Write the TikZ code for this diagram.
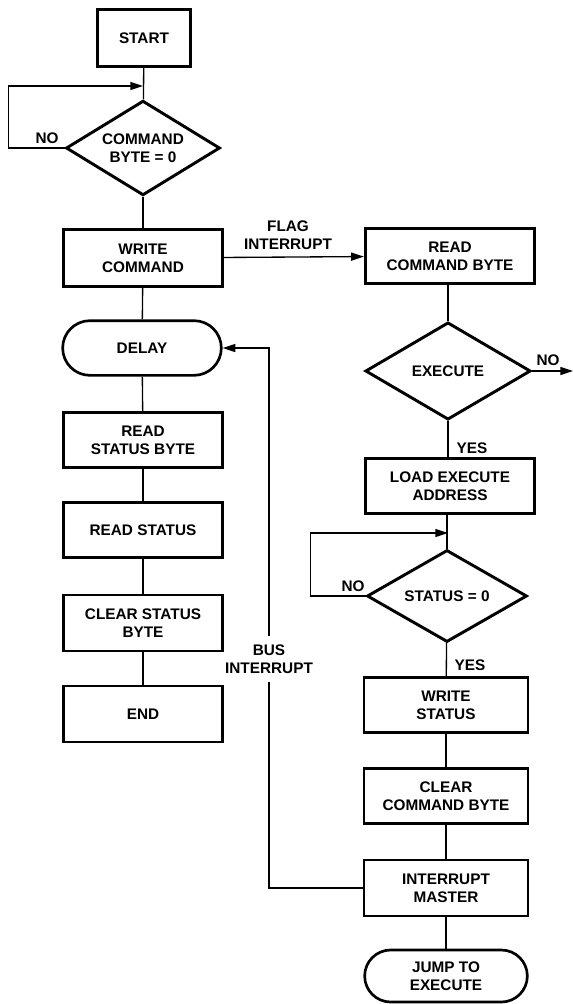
\documentclass[tikz,border=0pt]{standalone}
\usepackage{fontspec}
\setmainfont{Liberation Sans}
\usetikzlibrary{shapes.geometric,shapes.misc,arrows.meta}

\tikzset{every picture/.style={line width=0.75pt}}
\tikzset{
  txt/.style={font=\bfseries\fontsize{11.5}{13.5}\selectfont, align=center},
  stepbox/.style={txt, draw, rectangle, line width=2.2pt, minimum width=119pt, minimum height=41pt, inner sep=0pt},
  rstepbox/.style={stepbox, minimum width=123pt},
  testbox/.style={txt, draw, diamond, line width=2.2pt, inner sep=0pt, aspect=1.6},
  termbox/.style={txt, draw, rounded rectangle, line width=2pt, minimum width=119pt, minimum height=41pt, inner sep=0pt},
  flow/.style={line width=1pt},
  flowarr/.style={flow, -{Triangle[length=9.5pt,width=6pt]}},
  lbl/.style={txt, inner sep=0pt}
}

\begin{document}
\begin{tikzpicture}[x=0.75pt,y=0.75pt,yscale=-1,xscale=1]
\useasboundingbox (0,0) rectangle (573,1004);

%Left column
\node (start) at (144,38) [stepbox, minimum width=70pt, minimum height=43pt] {START};
\node (cmdzero) at (143,148) [testbox, minimum width=115.5pt, minimum height=71pt] {COMMAND\\BYTE = 0};
\node (writecmd) at (143,258) [stepbox, minimum height=43pt] {WRITE\\COMMAND};
\node (delay) at (142,348) [termbox] {DELAY};
\node (readstatbyte) at (143,440) [stepbox] {READ\\STATUS BYTE};
\node (readstat) at (143,530) [stepbox] {READ STATUS};
\node (clearstat) at (143,623) [stepbox, minimum height=42pt] {CLEAR STATUS\\BYTE};
\node (endbox) at (143,714) [stepbox, minimum height=42pt] {END};

%Right column
\node (readcmd) at (450,256) [rstepbox, minimum width=127pt] {READ\\COMMAND BYTE};
\node (execute) at (448,371) [testbox, minimum width=124pt, minimum height=73pt] {EXECUTE};
\node (loadexec) at (450,486) [rstepbox, minimum width=127pt] {LOAD EXECUTE\\ADDRESS};
\node (statzero) at (447,596) [testbox, minimum width=120pt, minimum height=69pt] {STATUS = 0};
\node (writestat) at (446,705) [rstepbox] {WRITE\\STATUS};
\node (clearcmd) at (446,796) [rstepbox] {CLEAR\\COMMAND BYTE};
\node (intmaster) at (446,888) [rstepbox, minimum height=42pt] {INTERRUPT\\MASTER};
\node (jump) at (446,976) [termbox, minimum width=122pt, minimum height=39pt] {JUMP TO\\EXECUTE};

%Labels
\node (nocmd) at (47,138) [lbl] {NO};
\node (flaglbl) at (288,235) [lbl] {FLAG\\INTERRUPT};
\node (noexec) at (548,360) [lbl] {NO};
\node (yesexec) at (472,448) [lbl] {YES};
\node (nostat) at (353,586) [lbl] {NO};
\node (yesstat) at (470,665) [lbl] {YES};
\node (buslbl) at (269,659) [lbl, inner ysep=6pt] {BUS\\INTERRUPT};

\coordinate (cmdjoin) at (143,86);
\coordinate (statjoin) at (448,533);
\coordinate (noexit) at (573,371);

%Straight Lines
\draw [flow] (start) -- (cmdzero);
\draw [flowarr] (cmdzero.west) -- ++(-56,0) |- (cmdjoin);
\draw [flow] (cmdzero) -- (writecmd);
\draw [flowarr] (writecmd) -- (readcmd);
\draw [flow] (writecmd) -- (delay);
\draw [flow] (delay) -- (readstatbyte);
\draw [flow] (readstatbyte) -- (readstat);
\draw [flow] (readstat) -- (clearstat);
\draw [flow] (clearstat) -- (endbox);

\draw [flow] (readcmd.south -| execute) -- (execute);
\draw [flowarr] (execute) -- (noexit);
\draw [flow] (execute) -- (loadexec.north -| execute);
\draw [flow] (loadexec.south -| statzero) -- (statzero);
\draw [flowarr] (statzero.west) -- ++(-55,0) |- (statjoin);
\draw [flow] (statzero) -- (writestat);
\draw [flow] (writestat) -- (clearcmd);
\draw [flow] (clearcmd) -- (intmaster);
\draw [flow] (intmaster) -- (jump);

%Bus interrupt
\draw [flow] (intmaster.west) -| (buslbl.south);
\draw [flowarr] (buslbl.north) |- (delay.east);

\end{tikzpicture}
\end{document}
